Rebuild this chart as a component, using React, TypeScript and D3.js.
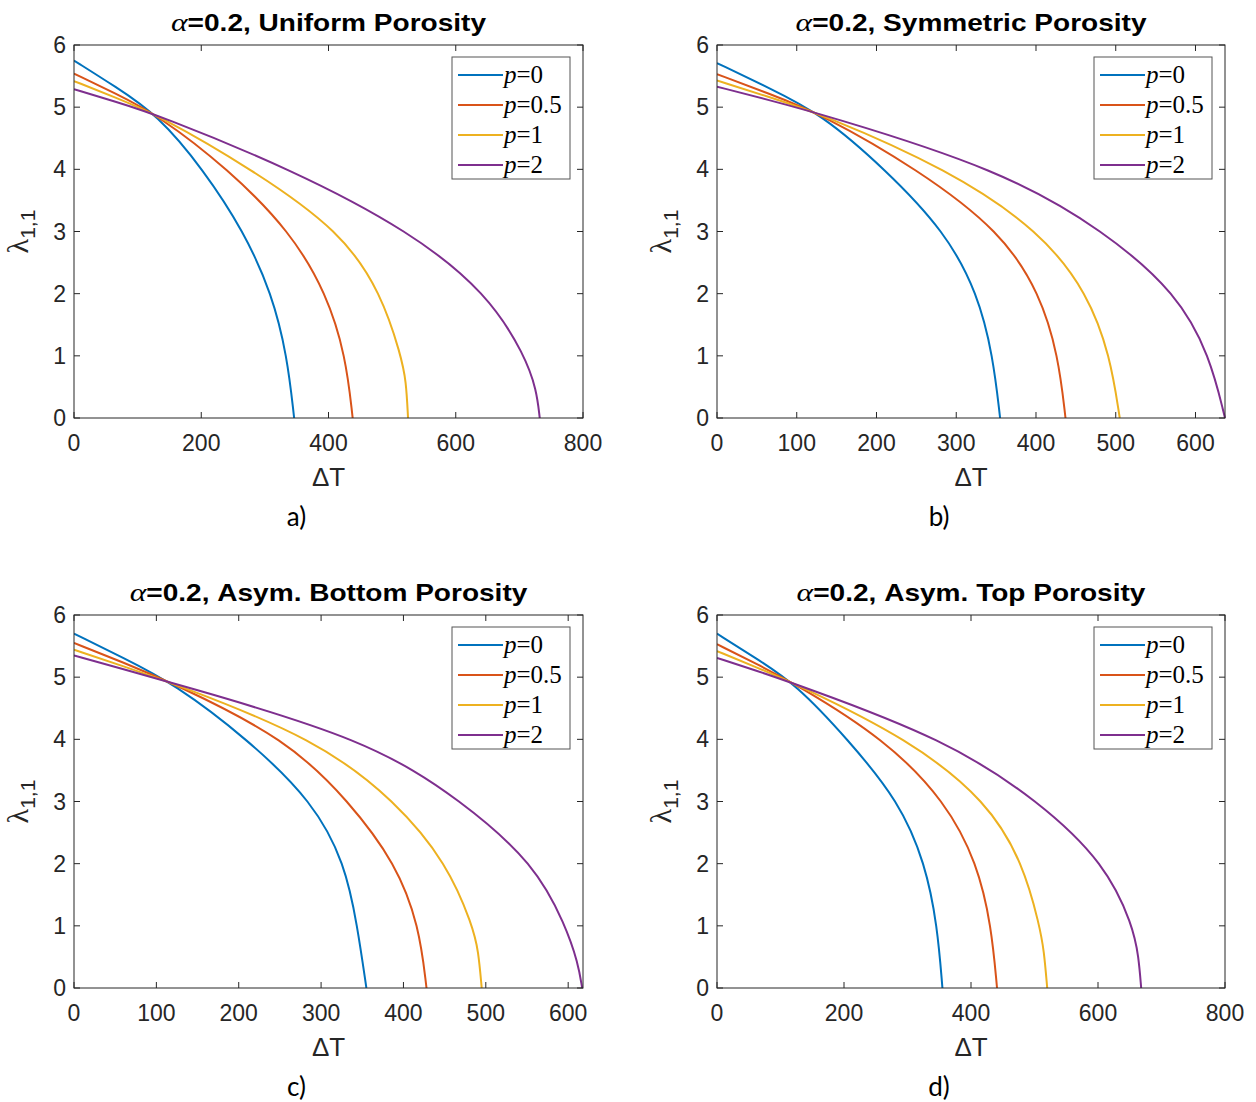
import React from "react";
import * as d3 from "d3";

// ---------- data (ΔT, λ) ----------
const seriesLabels = ["0", "0.5", "1", "2"];
const seriesColors = ["#0072BD", "#D95319", "#EDB120", "#7E2F8E"];

const uniformP0 = [[0, 5.75], [65, 5.33], [131, 4.88], [203, 4.0], [267, 3.0], [311, 2.0], [335, 1.0], [346, 0]];
const uniformP05 = [[0, 5.54], [65, 5.22], [131, 4.88], [243, 4.0], [340, 3.0], [397, 2.0], [427, 1.0], [438, 0]];
const uniformP1 = [[0, 5.42], [65, 5.155], [131, 4.88], [280, 4.0], [420, 3.0], [483, 2.0], [514, 1.0], [522, 0.6], [525, 0]];
const uniformP2 = [[0, 5.29], [65, 5.09], [131, 4.88], [342, 4.0], [529, 3.0], [650, 2.0], [709, 1.0], [727, 0.45], [732, 0]];

const symP0 = [[0, 5.71], [65, 5.31], [131, 4.89], [211, 4.0], [286, 3.0], [327, 2.0], [346, 1.0], [355, 0]];
const symP05 = [[0, 5.53], [65, 5.22], [131, 4.89], [252, 4.0], [356, 3.0], [405, 2.0], [428, 1.0], [437, 0]];
const symP1 = [[0, 5.43], [65, 5.165], [131, 4.89], [290, 4.0], [406, 3.0], [465, 2.0], [493, 1.0], [505, 0]];
const symP2 = [[0, 5.33], [65, 5.115], [131, 4.89], [355, 4.0], [487, 3.0], [577, 2.0], [618, 1.0], [637, 0]];

const botP0 = [[0, 5.70], [60, 5.31], [121, 4.90], [211, 4.0], [290, 3.0], [329, 2.0], [344, 1.0], [355, 0]];
const botP05 = [[0, 5.55], [60, 5.235], [121, 4.90], [259, 4.0], [334, 3.0], [391, 2.0], [419, 1.0], [428, 0]];
const botP1 = [[0, 5.44], [60, 5.175], [121, 4.90], [295, 4.0], [391, 3.0], [453, 2.0], [484, 1.0], [491, 0.6], [495, 0]];
const botP2 = [[0, 5.35], [60, 5.13], [121, 4.90], [357, 4.0], [472, 3.0], [559, 2.0], [597, 1.0], [612, 0.4], [617, 0]];

const topP0 = [[0, 5.70], [62, 5.30], [124, 4.89], [206, 4.0], [287, 3.0], [328, 2.0], [347, 1.0], [355, 0]];
const topP05 = [[0, 5.53], [62, 5.215], [124, 4.89], [265, 4.0], [360, 3.0], [410, 2.0], [432, 1.0], [441, 0]];
const topP1 = [[0, 5.42], [62, 5.16], [124, 4.89], [303, 4.0], [426, 3.0], [482, 2.0], [508, 1.0], [515, 0.6], [520, 0]];
const topP2 = [[0, 5.31], [62, 5.105], [124, 4.89], [360, 4.0], [508, 3.0], [611, 2.0], [655, 1.0], [664, 0.5], [668, 0]];

const titles = ["=0.2, Uniform Porosity", "=0.2, Symmetric Porosity", "=0.2, Asym. Bottom Porosity", "=0.2, Asym. Top Porosity"];
const subLabels = ["a)", "b)", "c)", "d)"];
const xMaxes = [800, 637, 618, 800];
const xTickSets = [
  [0, 200, 400, 600, 800],
  [0, 100, 200, 300, 400, 500, 600],
  [0, 100, 200, 300, 400, 500, 600],
  [0, 200, 400, 600, 800],
];
const yTicks = [0, 1, 2, 3, 4, 5, 6];
const panelSeries = [
  [uniformP0, uniformP05, uniformP1, uniformP2],
  [symP0, symP05, symP1, symP2],
  [botP0, botP05, botP1, botP2],
  [topP0, topP05, topP1, topP2],
];

// ---------- layout ----------
const frames = [
  { left: 74, top: 45, width: 509, height: 373 },
  { left: 717, top: 45, width: 508, height: 373 },
  { left: 74, top: 615, width: 509, height: 373 },
  { left: 717, top: 615, width: 508, height: 373 },
];

const SANS = "'Liberation Sans', Arial, Helvetica, sans-serif";
const SERIF = "'Liberation Serif', 'Times New Roman', serif";
const AX = "#262626";

function Panel({ idx }: { idx: number }) {
  const f = frames[idx];
  const x = d3.scaleLinear().domain([0, xMaxes[idx]]).range([f.left, f.left + f.width]);
  const y = d3.scaleLinear().domain([0, 6]).range([f.top + f.height, f.top]);
  const line = d3
    .line<number[]>()
    .x((d) => x(d[0]))
    .y((d) => y(d[1]))
    .curve(d3.curveBasis);
  const tl = 6;
  const bottom = f.top + f.height;
  const right = f.left + f.width;
  const cx = f.left + f.width / 2;

  const lgLeft = right - 131;
  const lgTop = f.top + 12;

  return (
    <g>
      <defs>
        <clipPath id={`clip${idx}`}>
          <rect x={f.left} y={f.top - 2} width={f.width + 1} height={f.height + 2} />
        </clipPath>
      </defs>
      <g clipPath={`url(#clip${idx})`}>
        {panelSeries[idx].map((s, i) => (
          <path key={i} d={line(s as number[][]) || ""} fill="none" stroke={seriesColors[i]} strokeWidth={2} />
        ))}
      </g>
      <rect x={f.left} y={f.top} width={f.width} height={f.height} fill="none" stroke={AX} strokeWidth={1} />
      {xTickSets[idx].map((t) => (
        <g key={"x" + t}>
          <line x1={x(t)} x2={x(t)} y1={bottom} y2={bottom - tl} stroke={AX} />
          <line x1={x(t)} x2={x(t)} y1={f.top} y2={f.top + tl} stroke={AX} />
          <text x={x(t)} y={bottom + 33} textAnchor="middle" fontFamily={SANS} fontSize={23} fill={AX}>
            {t}
          </text>
        </g>
      ))}
      {yTicks.map((t) => (
        <g key={"y" + t}>
          <line x1={f.left} x2={f.left + tl} y1={y(t)} y2={y(t)} stroke={AX} />
          <line x1={right} x2={right - tl} y1={y(t)} y2={y(t)} stroke={AX} />
          <text x={f.left - 8} y={y(t) + 8} textAnchor="end" fontFamily={SANS} fontSize={23} fill={AX}>
            {t}
          </text>
        </g>
      ))}
      <g transform={`translate(${cx},${f.top - 14}) scale(1.22,1)`}>
        <text x={0} y={0} textAnchor="middle" fill="#000">
          <tspan fontFamily={SERIF} fontStyle="italic" fontSize={26}>α</tspan>
          <tspan fontFamily={SANS} fontWeight="bold" fontSize={23}>{titles[idx]}</tspan>
        </text>
      </g>
      <text x={cx} y={bottom + 68} textAnchor="middle" fontFamily={SANS} fontSize={26} fill={AX}>
        ΔT
      </text>
      <g transform={`translate(${f.left - 46},${f.top + f.height / 2}) rotate(-90)`}>
        <text x={0} y={0} textAnchor="middle" fill={AX}>
          <tspan fontFamily={SERIF} fontSize={30}>λ</tspan>
          <tspan fontFamily={SANS} fontSize={21} dy={7}>1,1</tspan>
        </text>
      </g>
      <text x={cx - 32} y={bottom + 108} textAnchor="middle" fontFamily="Lato, 'Open Sans', sans-serif" fontSize={26} fill="#000">
        {subLabels[idx]}
      </text>
      <rect x={lgLeft} y={lgTop} width={118} height={122} fill="#fff" stroke="#555" strokeWidth={1} />
      {seriesLabels.map((lab, i) => {
        const ly = lgTop + 18 + i * 30;
        return (
          <g key={"lg" + i}>
            <line x1={lgLeft + 6} x2={lgLeft + 51} y1={ly} y2={ly} stroke={seriesColors[i]} strokeWidth={2} />
            <text x={lgLeft + 52} y={ly + 8} fontFamily={SERIF} fontSize={25} fill="#000">
              <tspan fontStyle="italic">p</tspan>
              <tspan>={lab}</tspan>
            </text>
          </g>
        );
      })}
    </g>
  );
}

export default function App() {
  return (
    <svg
      width={1256}
      height={1102}
      viewBox="0 0 1256 1102"
      style={{ position: "absolute", left: 0, top: 0, background: "#fff" }}
    >
      <rect x={0} y={0} width={1256} height={1102} fill="#fff" />
      {[0, 1, 2, 3].map((i) => (
        <Panel key={i} idx={i} />
      ))}
    </svg>
  );
}
